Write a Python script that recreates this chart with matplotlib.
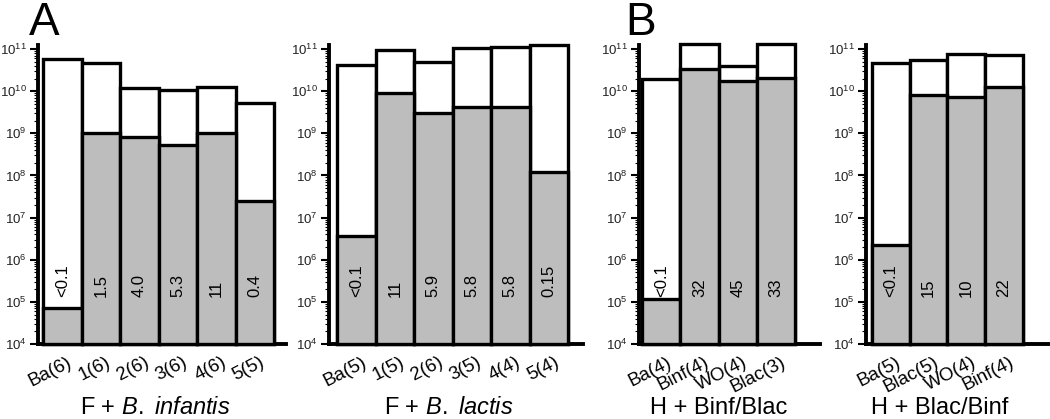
import numpy as np
import matplotlib.pyplot as plt
from matplotlib.transforms import ScaledTranslation
from matplotlib.ticker import LogLocator, FixedLocator

plt.rcParams['font.family'] = ['Liberation Sans', 'DejaVu Sans']
plt.rcParams['mathtext.fontset'] = 'custom'
plt.rcParams['mathtext.rm'] = 'Liberation Sans'
plt.rcParams['mathtext.it'] = 'Liberation Sans:italic'

# panel data: total counts (white bar), bound fraction (grey bar), % labels
labels_a1 = ['Ba(6)', '1(6)', '2(6)', '3(6)', '4(6)', '5(5)']
total_a1 = [5.8e10, 4.6e10, 1.2e10, 1.07e10, 1.26e10, 5.3e9]
bound_a1 = [7e4, 1.0e9, 8.3e8, 5.2e8, 1.0e9, 2.5e7]
pct_a1 = ['<0.1', '1.5', '4.0', '5.3', '11', '0.4']

labels_a2 = ['Ba(5)', '1(5)', '2(6)', '3(5)', '4(4)', '5(4)']
total_a2 = [4.2e10, 9.5e10, 5.0e10, 1.05e11, 1.1e11, 1.25e11]
bound_a2 = [3.7e6, 9.0e9, 3.1e9, 4.2e9, 4.2e9, 1.2e8]
pct_a2 = ['<0.1', '11', '5.9', '5.8', '5.8', '0.15']

labels_b1 = ['Ba(4)', 'Binf(4)', 'WO(4)', 'Blac(3)']
total_b1 = [1.9e10, 1.3e11, 3.9e10, 1.3e11]
bound_b1 = [1.2e5, 3.4e10, 1.75e10, 2.1e10]
pct_b1 = ['<0.1', '32', '45', '33']

labels_b2 = ['Ba(5)', 'Blac(5)', 'WO(4)', 'Binf(4)']
total_b2 = [4.7e10, 5.5e10, 7.6e10, 7.2e10]
bound_b2 = [2.2e6, 8.3e9, 7.1e9, 1.25e10]
pct_b2 = ['<0.1', '15', '10', '22']

titles = [r'F + $\mathit{B.\ infantis}$', r'F + $\mathit{B.\ lactis}$',
          'H + Binf/Blac', 'H + Blac/Binf']

W, H = 1050, 419
fig = plt.figure(figsize=(W / 100, H / 100), dpi=100)

# pixel layout: (left, width, xlim, title centre)
layout = [
    (38, 248, (-0.63, 5.81), 155),
    (329, 254, (-0.71, 5.89), 449),
    (639, 181, (-0.58, 4.15), 719),
    (866, 184, (-0.66, 4.22), 940),
]
panels = [
    (labels_a1, total_a1, bound_a1, pct_a1),
    (labels_a2, total_a2, bound_a2, pct_a2),
    (labels_b1, total_b1, bound_b1, pct_b1),
    (labels_b2, total_b2, bound_b2, pct_b2),
]

ybot, ytop = 344, 45
grey = '#bdbdbd'
floor = 1e4

for (left, width, xlim, tx), (labs, tot, bnd, pct), title in zip(layout, panels, titles):
    ax = fig.add_axes([left / W, (H - ybot) / H, width / W, (ybot - ytop) / H])
    x = np.arange(len(labs))
    tot = np.array(tot)
    bnd = np.array(bnd)
    ax.bar(x, tot - floor, bottom=floor, width=1.0, color='white',
           edgecolor='black', linewidth=2.4, clip_on=False, zorder=2)
    ax.bar(x, bnd - floor, bottom=floor, width=1.0, color=grey,
           edgecolor='black', linewidth=2.4, clip_on=False, zorder=3)
    ax.set_yscale('log')
    ax.set_ylim(floor, 1.25e11)
    ax.set_xlim(*xlim)

    ax.yaxis.set_major_locator(FixedLocator([10.0 ** k for k in range(4, 12)]))
    ax.yaxis.set_minor_locator(LogLocator(base=10, subs=np.arange(2, 10), numticks=20))
    ax.set_yticklabels([r'$10^{%d}$' % k for k in range(4, 12)], fontsize=9.5,
                       color='#222222')
    ax.tick_params(axis='y', which='major', length=6, width=1.5, pad=2, direction='out')
    ax.tick_params(axis='y', which='minor', length=3, width=0.8, direction='out')
    ax.set_xticks([])

    for s in ['top', 'right']:
        ax.spines[s].set_visible(False)
    ax.spines['left'].set_linewidth(2.8)
    ax.spines['bottom'].set_linewidth(2.8)

    # percentage labels inside the bars
    for xi, p in zip(x, pct):
        ax.text(xi, 1.3e5, p, rotation=90, ha='center', va='bottom',
                fontsize=12, zorder=5)

    # rotated category labels
    off = ScaledTranslation(5 / 100, -10 / 100, fig.dpi_scale_trans)
    for xi, lab in zip(x, labs):
        ax.text(xi, 0, lab, transform=ax.get_xaxis_transform() + off,
                rotation=27, ha='right', va='top', rotation_mode='anchor',
                fontsize=13.5)

    fig.text(tx / W, (H - 414) / H, title, ha='center', va='baseline', fontsize=17)

fig.text(29 / W, (H - 35) / H, 'A', fontsize=33, ha='left', va='baseline')
fig.text(625 / W, (H - 35) / H, 'B', fontsize=33, ha='left', va='baseline')

fig.savefig('out.png', dpi=100)
